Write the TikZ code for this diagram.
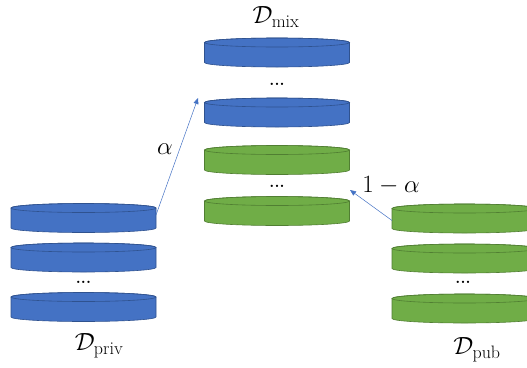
\documentclass[tikz,border=0pt]{standalone}
\usetikzlibrary{arrows.meta}
\definecolor{bluefill}{HTML}{4472C4}
\definecolor{blueline}{HTML}{2F528F}
\definecolor{greenfill}{HTML}{70AD47}
\definecolor{greenline}{HTML}{507E32}
\newcommand{\subtxt}[1]{\hbox{\fontsize{18}{20}\selectfont #1}}
\tikzset{
  diskbox/.style={minimum width=145pt, minimum height=29pt, inner sep=0pt, outer sep=0pt},
  pics/disk/.style args={#1/#2}{code={
    \node[diskbox] (-box) at (0,0) {};
    \path[fill=#1, draw=#2, line width=0.6pt]
      (-72.5pt,10pt) -- (-72.5pt,-10pt)
      arc[start angle=180, end angle=360, x radius=72.5pt, y radius=4.5pt]
      -- (72.5pt,10pt)
      arc[start angle=0, end angle=180, x radius=72.5pt, y radius=4.5pt] -- cycle;
    \draw[draw=#2, line width=0.6pt] (0,10pt) ellipse [x radius=72.5pt, y radius=4.5pt];
  }},
  dots/.style={font=\fontsize{16}{18}\selectfont\bfseries, inner sep=0pt},
  lbl/.style={font=\fontsize{24}{28}\selectfont, inner sep=0pt},
  link/.style={draw=bluefill, line width=0.5pt, -{Triangle[length=6pt,width=5pt]}},
}
\begin{document}
\begin{tikzpicture}
\useasboundingbox (0pt,0pt) rectangle (527pt,-367pt);
\clip (0pt,0pt) rectangle (527pt,-367pt);

% mixed dataset
\pic (m1) at (277pt,-52.5pt) {disk={bluefill/blueline}};
\node[dots] (mdots1) at (277pt,-84pt) {...};
\pic (m2) at (277pt,-112.5pt) {disk={bluefill/blueline}};
\pic (m3) at (277pt,-160pt) {disk={greenfill/greenline}};
\node[dots] (mdots2) at (277pt,-186pt) {...};
\pic (m4) at (277pt,-211pt) {disk={greenfill/greenline}};
\node[lbl] (mixlbl) at (276pt,-17pt) {$\mathcal{D}_{\subtxt{mix}}$};

% private dataset
\pic (p1) at (83.5pt,-218pt) {disk={bluefill/blueline}};
\pic (p2) at (83.5pt,-257.5pt) {disk={bluefill/blueline}};
\node[dots] (pdots) at (83.5pt,-282pt) {...};
\pic (p3) at (83.5pt,-307pt) {disk={bluefill/blueline}};
\node[lbl] (privlbl) at (99pt,-346pt) {$\mathcal{D}_{\subtxt{priv}}$};

% public dataset
\pic (q1) at (464.5pt,-218.5pt) {disk={greenfill/greenline}};
\pic (q2) at (464.5pt,-258.5pt) {disk={greenfill/greenline}};
\node[dots] (qdots) at (463pt,-282pt) {...};
\pic (q3) at (464.5pt,-308.5pt) {disk={greenfill/greenline}};
\node[lbl] (publbl) at (477pt,-350pt) {$\mathcal{D}_{\subtxt{pub}}$};

% sampling arrows
\coordinate (privtip) at (198pt,-98pt);
\coordinate (pubtip) at (350pt,-190pt);
\draw[link] ([yshift=3pt]p1-box.east) -- (privtip);
\draw[link] ([yshift=-2pt]q1-box.west) -- (pubtip);
\node[lbl] (alpha) at (165pt,-149pt) {$\alpha$};
\node[lbl] (onema) at (391pt,-186pt) {$1-\alpha$};
\end{tikzpicture}
\end{document}
